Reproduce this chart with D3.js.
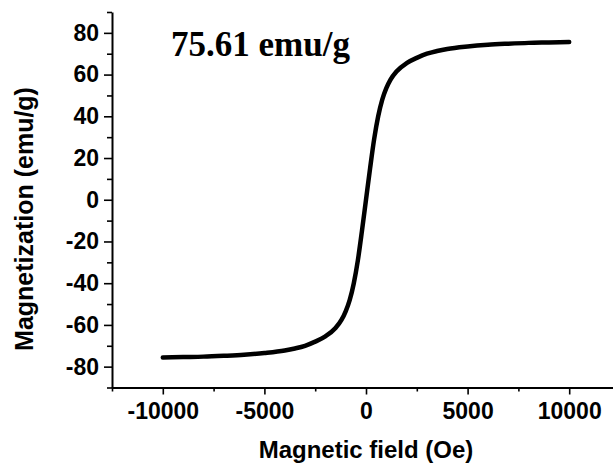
<!DOCTYPE html>
<html>
<head>
<meta charset="utf-8">
<script src="https://cdn.jsdelivr.net/npm/d3@7"></script>
<style>
  body { margin: 0; background: #fff; }
  svg { display: block; }
  .axis text { font-family: "Liberation Sans", Arial, sans-serif; font-weight: bold; font-size: 23px; fill: #000; }
  .axis path, .axis line { stroke: #000; }
</style>
</head>
<body>
<div id="chart"></div>
<script>
// hysteresis curve, field in Oe, magnetization in emu/g
const field = [-10000, -9000, -8000, -7000, -6000, -5000, -4000, -3500, -3000, -2500, -2000, -1500, -1200, -1000, -800, -600, -400, -200,
               0, 200, 400, 600, 800, 1000, 1200, 1500, 2000, 2500, 3000, 3500, 4000, 5000, 6000, 7000, 8000, 9000, 10000];
const magnet = [-75.61, -75.4, -75.2, -74.8, -74.3, -73.5, -72.3, -71.3, -70, -68, -65.5, -61.5, -57.5, -53.5, -48, -40, -29, -15,
                0, 15, 29, 40, 48, 53.5, 57.5, 61.5, 65.5, 68, 70, 71.3, 72.3, 73.5, 74.3, 74.8, 75.2, 75.4, 75.61];

const xMajor = [-10000, -5000, 0, 5000, 10000];
const xMinor = [-12500, -7500, -2500, 2500, 7500, 12500];
const yMajor = [-80, -60, -40, -20, 0, 20, 40, 60, 80];
const yMinor = [-90, -70, -50, -30, -10, 10, 30, 50, 70, 90];

const width = 613, height = 464;

let svg = d3.select("#chart")
    .append("svg")
    .attr("width", width)
    .attr("height", height);

let x = d3.scaleLinear().domain([-12500, 12500]).range([112, 620]);
let y = d3.scaleLinear().domain([-90, 90]).range([387.5, 12]);

// plain hyphen for negatives, like the original
let fmt = d => String(d);

// minor ticks first, then the labelled ones on top
svg.append("g")
    .attr("class", "axis")
    .attr("transform", "translate(0," + y(-90) + ")")
    .call(d3.axisBottom(x).tickValues(xMinor).tickSize(4).tickSizeOuter(0).tickFormat(""))
    .call(g => g.select(".domain").remove())
    .selectAll("line").attr("stroke-width", 1.6);

svg.append("g")
    .attr("class", "axis")
    .attr("transform", "translate(" + x(-12500) + ",0)")
    .call(d3.axisLeft(y).tickValues(yMinor).tickSize(5).tickSizeOuter(0).tickFormat(""))
    .call(g => g.select(".domain").remove())
    .selectAll("line").attr("stroke-width", 1.6);

let xAxis = svg.append("g")
    .attr("class", "axis")
    .attr("transform", "translate(0," + y(-90) + ")")
    .call(d3.axisBottom(x).tickValues(xMajor).tickSize(7).tickSizeOuter(0).tickPadding(8).tickFormat(fmt));
xAxis.select(".domain").attr("stroke-width", 2);
xAxis.selectAll("line").attr("stroke-width", 1.6);

let yAxis = svg.append("g")
    .attr("class", "axis")
    .attr("transform", "translate(" + x(-12500) + ",0)")
    .call(d3.axisLeft(y).tickValues(yMajor).tickSize(8).tickSizeOuter(0).tickPadding(5).tickFormat(fmt));
yAxis.select(".domain").attr("stroke-width", 2);
yAxis.selectAll("line").attr("stroke-width", 1.6);

// the curve
let line = d3.line()
    .x((d, i) => x(field[i]))
    .y(d => y(d))
    .curve(d3.curveMonotoneX);

svg.append("path")
    .datum(magnet)
    .attr("d", line)
    .attr("fill", "none")
    .attr("stroke", "#000")
    .attr("stroke-width", 4.5)
    .attr("stroke-linecap", "round")
    .attr("stroke-linejoin", "round");

// labels
svg.append("text")
    .attr("x", 366)
    .attr("y", 458)
    .attr("text-anchor", "middle")
    .style("font-family", "'Liberation Sans', Arial, sans-serif")
    .style("font-weight", "bold")
    .style("font-size", "24px")
    .text("Magnetic field (Oe)");

svg.append("text")
    .attr("transform", "translate(33,219) rotate(-90)")
    .attr("text-anchor", "middle")
    .style("font-family", "'Liberation Sans', Arial, sans-serif")
    .style("font-weight", "bold")
    .style("font-size", "25px")
    .text("Magnetization (emu/g)");

svg.append("text")
    .attr("x", 171)
    .attr("y", 56)
    .style("font-family", "'Liberation Serif', 'Times New Roman', serif")
    .style("font-weight", "bold")
    .style("font-size", "35px")
    .text("75.61 emu/g");
</script>
</body>
</html>
